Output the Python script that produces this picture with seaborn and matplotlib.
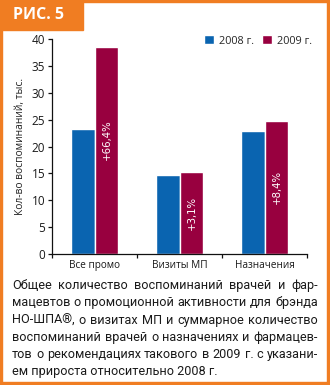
import matplotlib
matplotlib.use("Agg")
import matplotlib.pyplot as plt
import seaborn as sns
import pandas as pd
from matplotlib.patches import Rectangle, Patch
from matplotlib import font_manager

categories = ["Все промо", "Визиты МП", "Назначения"]
years = ["2008 г.", "2009 г."]
values_2008 = [23.2, 14.7, 22.9]
values_2009 = [38.6, 15.2, 24.8]
growth_labels = ["+66,4%", "+3,1%", "+8,4%"]
y_ticks = [0, 5, 10, 15, 20, 25, 30, 35, 40]
y_label = "Кол-во воспоминаний, тыс."
header = "РИС. 5"
caption_lines = [
    "Общее количество воспоминаний врачей и фар-",
    "мацевтов о промоционной активности для брэнда",
    "НО-ШПА®, о визитах МП и суммарное количество",
    "воспоминаний врачей о назначениях и фармацев-",
    "тов о рекомендациях такового в 2009 г. с указани-",
    "ем прироста относительно 2008 г.",
]

BLUE = "#0a64b0"
RED = "#98003f"
ORANGE = "#f07d22"

sns.set_theme(style="white")
plt.rcParams["font.family"] = ["Open Sans", "DejaVu Sans"]


def has_font(name):
    try:
        font_manager.findfont(font_manager.FontProperties(family=name), fallback_to_default=False)
        return True
    except Exception:
        return False


cap_font = "Liberation Sans Narrow" if has_font("Liberation Sans Narrow") else "Roboto"

df = pd.DataFrame({
    "cat": categories * 2,
    "year": [years[0]] * 3 + [years[1]] * 3,
    "val": values_2008 + values_2009,
})

W, H = 330, 385
fig = plt.figure(figsize=(W / 100, H / 100), dpi=100)
ax = fig.add_axes([52 / W, 1 - 254 / H, (307 - 52) / W, (254 - 39) / H])

sns.barplot(data=df, x="cat", y="val", hue="year", palette=[BLUE, RED],
            width=0.56, saturation=1, ax=ax, legend=False)

ax.set_ylim(0, 40)
ax.set_xlim(-0.5, 2.5)
ax.set_yticks(y_ticks)
ax.set_ylabel(y_label, fontsize=7.4, color="#222222", labelpad=4)
ax.set_xlabel("")
for s in ["top", "right"]:
    ax.spines[s].set_visible(False)
for s in ["left", "bottom"]:
    ax.spines[s].set_color("#111111")
    ax.spines[s].set_linewidth(0.9)
ax.tick_params(axis="y", which="major", direction="out", length=3, width=0.9,
               color="#111111", labelsize=8.5, labelcolor="#1a1a1a", pad=2, left=True)
ax.tick_params(axis="x", which="major", length=0, labelsize=7.2, labelcolor="#1a1a1a", pad=4)
ax.set_xticks([-0.5, 0.5, 1.5, 2.5], minor=True)
ax.tick_params(axis="x", which="minor", direction="out", length=3, width=0.9,
               color="#111111", bottom=True)

# growth labels inside 2009 bars
for i, (lab, v) in enumerate(zip(growth_labels, values_2009)):
    ax.text(i + 0.14, v * 0.5 + (2.0 if i == 0 else 0), lab, rotation=90, ha="center",
            va="center", color="white", fontsize=7.3, family="DejaVu Sans")

# legend
handles = [Patch(facecolor=BLUE), Patch(facecolor=RED)]
fig.legend(handles, years, loc="center left", bbox_to_anchor=(204 / W, 1 - 41 / H),
           ncol=2, frameon=False, fontsize=7.8, handlelength=0.9, handleheight=0.9,
           handletextpad=0.45, columnspacing=0.8, borderaxespad=0, borderpad=0)

# frame and header
for rect in [(0, 0, 2 / W, 1), (1 - 3 / W, 0, 3 / W, 1), (0, 0, 1, 3 / H),
             (0, 1 - 2 / H, 1, 2 / H), (0, 1 - 30 / H, 83 / W, 30 / H)]:
    fig.patches.append(Rectangle(rect[:2], rect[2], rect[3], transform=fig.transFigure,
                                 color=ORANGE, zorder=5))
fig.text(13 / W, 1 - 15 / H, header, color="white", fontsize=11.5, fontweight="bold",
         va="center", ha="left", zorder=6)

# justified caption
fig.canvas.draw()
renderer = fig.canvas.get_renderer()
x0, x1 = 12, 318
ys = [289, 306.3, 323.6, 340.9, 358.2, 375.5]

# choose font size so the longest line fits with natural spacing
probe = fig.text(0, 0, "", fontsize=10, family=cap_font)
maxw = 0
for line in caption_lines[:-1]:
    probe.set_text(line)
    maxw = max(maxw, probe.get_window_extent(renderer).width)
probe.remove()
fs = 10 * (x1 - x0 - 2) / maxw

for li, line in enumerate(caption_lines):
    yfig = 1 - ys[li] / H
    words = line.split(" ")
    last = li == len(caption_lines) - 1
    if last:
        fig.text(x0 / W, yfig, line, fontsize=fs, color="#1a1a1a", va="baseline",
                 ha="left", family=cap_font)
        continue
    texts = []
    widths = []
    for w in words:
        t = fig.text(0, yfig, w, fontsize=fs, color="#1a1a1a", va="baseline", ha="left",
                     family=cap_font)
        bb = t.get_window_extent(renderer)
        texts.append(t)
        widths.append(bb.width)
    gap = ((x1 - x0) - sum(widths)) / max(len(words) - 1, 1)
    x = x0
    for t, wd in zip(texts, widths):
        t.set_x(x / W)
        x += wd + gap

fig.savefig("out.png", dpi=100)
